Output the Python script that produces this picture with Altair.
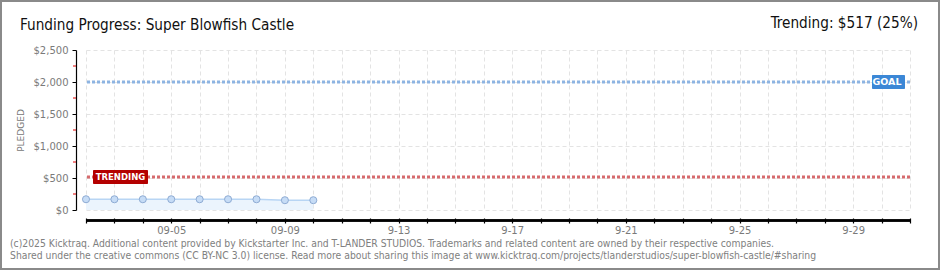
import altair as alt
import pandas as pd

# ---- data ----
dates = ["2025-09-02", "2025-09-03", "2025-09-04", "2025-09-05", "2025-09-06",
         "2025-09-07", "2025-09-08", "2025-09-09", "2025-09-10"]
pledged = [168, 168, 168, 168, 168, 168, 168, 153, 153]
start_date = "2025-09-02"
end_date = "2025-10-01"
goal = 2000
trending = 517
trending_pct = 25
y_ticks = [0, 500, 1000, 1500, 2000, 2500]
y_minor = [250, 750, 1250, 1750, 2250]
x_labels = {3: "09-05", 7: "09-09", 11: "9-13", 15: "9-17", 19: "9-21", 23: "9-25", 27: "9-29"}
title_text = "Funding Progress: Super Blowfish Castle"
trend_text = f"Trending:  ${trending} ({trending_pct}%)"
footer1 = ("(c)2025 Kicktraq. Additional content provided by Kickstarter Inc. and T-LANDER STUDIOS. "
           "Trademarks and related content are owned by their respective companies.")
footer2 = ("Shared under the creative commons (CC BY-NC 3.0) license. Read more about sharing this image "
           "at www.kicktraq.com/projects/tlanderstudios/super-blowfish-castle/#sharing")

# ---- build tables ----
t0 = pd.Timestamp(start_date)
n_days = (pd.Timestamp(end_date) - t0).days
df = pd.DataFrame({"day": [(pd.Timestamp(d) - t0).days for d in dates], "pledged": pledged})
lines = pd.DataFrame({"value": [goal, trending], "kind": ["goal", "trend"]})
minor = pd.DataFrame({"v": y_minor})

W, H = 824, 160
PL, PT = 86, 50

label_expr = " : ".join([f"datum.value == {k} ? '{v}'" for k, v in x_labels.items()]) + " : ''"

xscale = alt.Scale(domain=[0, n_days], nice=False, zero=False)
yscale = alt.Scale(domain=[0, 2500], nice=False)

xax = alt.Axis(
    values=list(range(0, n_days + 1)), labelExpr=label_expr, title=None,
    offset=8, domain=False, tickSize=5, tickColor="#000", tickWidth=1.2,
    labelColor="#7a7a7a", labelFontSize=10, labelFont="DejaVu Sans", labelPadding=2,
    labelOverlap=False, labelFlush=False,
    grid=True, gridColor="#e3e3e3", gridDash=[4, 3])
yax = alt.Axis(
    values=y_ticks, format="$,d", title="PLEDGED", titleFontSize=9,
    titleColor="#777", titleFont="DejaVu Sans", titleFontWeight="normal", titlePadding=8,
    offset=10, domainColor="#000", domainWidth=1.2, tickColor="#000", tickSize=4,
    labelColor="#7a7a7a", labelFontSize=10, labelFont="DejaVu Sans", labelPadding=4,
    labelOverlap=False,
    grid=True, gridColor="#e3e3e3", gridDash=[4, 3])


def X(f):
    return alt.X(f, scale=xscale, axis=xax)


def Y(f):
    return alt.Y(f, scale=yscale, axis=yax)


base = alt.Chart(df)

area = base.mark_area(color="#ebf4fd", opacity=1).encode(x=X("day:Q"), y=Y("pledged:Q"))
line = base.mark_line(color="#b8d5f4", strokeWidth=1.5).encode(x=X("day:Q"), y=Y("pledged:Q"))
pts = base.mark_point(filled=True, size=50, fill="#c6dcf6", stroke="#8eabd3",
                      strokeWidth=1, opacity=1).encode(x=X("day:Q"), y=Y("pledged:Q"))

xaxis_line = alt.Chart(df).mark_rule(color="#000", strokeWidth=1.5).encode(
    x=alt.value(0), x2=alt.value(W), y=alt.value(H + 10.5))

minor_ticks = alt.Chart(minor).mark_rule(color="#e00000", strokeWidth=1).encode(
    y=Y("v:Q"), x=alt.value(-13), x2=alt.value(-10))

goal_rule = alt.Chart(lines).transform_filter("datum.kind == 'goal'").mark_rule(
    color="#8db4e2", strokeWidth=3, strokeDash=[3, 2]).encode(y=Y("value:Q"))
trend_rule = alt.Chart(lines).transform_filter("datum.kind == 'trend'").mark_rule(
    color="#d66a6d", strokeWidth=3, strokeDash=[3, 2]).encode(y=Y("value:Q"))

half = 7 * 2500 / H
goal_badge = alt.Chart(lines).transform_filter("datum.kind == 'goal'").transform_calculate(
    lo=f"datum.value - {half}", hi=f"datum.value + {half}").mark_rect(
    color="#3b87d6", cornerRadius=1).encode(
    x=alt.value(786), x2=alt.value(819), y=Y("lo:Q"), y2="hi:Q")
goal_text = alt.Chart(lines).transform_filter("datum.kind == 'goal'").mark_text(
    text="GOAL", color="white", fontSize=9.5, font="DejaVu Sans", fontWeight="bold",
    align="center", baseline="middle").encode(x=alt.value(801), y=Y("value:Q"))
trend_badge = alt.Chart(lines).transform_filter("datum.kind == 'trend'").transform_calculate(
    lo=f"datum.value - {half}", hi=f"datum.value + {half}").mark_rect(
    color="#b40000", cornerRadius=1).encode(
    x=alt.value(7), x2=alt.value(62), y=Y("lo:Q"), y2="hi:Q")
trend_text_mark = alt.Chart(lines).transform_filter("datum.kind == 'trend'").mark_text(
    text="TRENDING", color="white", fontSize=8.5, font="DejaVu Sans", fontWeight="bold",
    align="center", baseline="middle").encode(x=alt.value(34.5), y=Y("value:Q"))

txt = pd.DataFrame({"t": [title_text, trend_text, footer1, footer2]})
title_m = alt.Chart(txt).transform_filter(f"datum.t == {title_text!r}").mark_text(
    align="left", baseline="middle", fontSize=15.2, color="#111",
    font="DejaVu Sans Condensed").encode(
    x=alt.value(20 - PL), y=alt.value(25 - PT), text="t:N")
trend_m = alt.Chart(txt).transform_filter(f"datum.t == {trend_text!r}").mark_text(
    align="right", baseline="middle", fontSize=15.2, color="#111",
    font="DejaVu Sans Condensed").encode(
    x=alt.value(918 - PL), y=alt.value(23 - PT), text="t:N")
foot1 = alt.Chart(txt).transform_filter(f"datum.t == {footer1!r}").mark_text(
    align="left", baseline="middle", fontSize=10.3, color="#808080", font="DejaVu Sans Condensed").encode(
    x=alt.value(10 - PL), y=alt.value(243.5 - PT), text="t:N")
foot2 = alt.Chart(txt).transform_filter(f"datum.t == {footer2!r}").mark_text(
    align="left", baseline="middle", fontSize=10.3, color="#808080", font="DejaVu Sans Condensed").encode(
    x=alt.value(10 - PL), y=alt.value(255.5 - PT), text="t:N")

border = alt.Chart(df).mark_rect(fill=None, stroke="#8a8a8a", strokeWidth=2, filled=False).encode(
    x=alt.value(-PL + 1), x2=alt.value(940 - PL - 1), y=alt.value(-PT + 1), y2=alt.value(270 - PT - 1))

chart = alt.layer(
    area, line, goal_rule, trend_rule, pts, xaxis_line, minor_ticks,
    goal_badge, goal_text, trend_badge, trend_text_mark,
    title_m, trend_m, foot1, foot2, border
).properties(
    width=W, height=H,
    autosize=alt.AutoSizeParams(type="none"),
    padding={"left": PL, "top": PT, "right": 940 - PL - W, "bottom": 270 - PT - H},
    background="white",
).configure_view(stroke=None)

chart.save("out.html", embed_options={"renderer": "svg", "actions": False})
